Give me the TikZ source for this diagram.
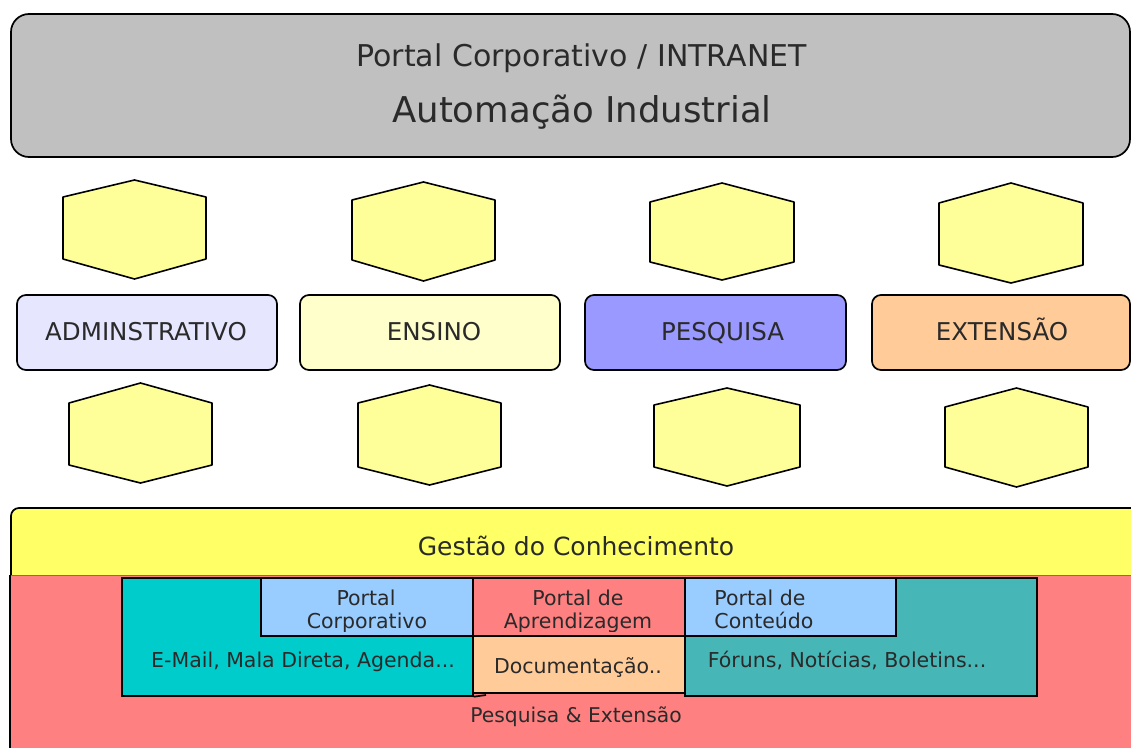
\documentclass[tikz,border=0pt]{standalone}
\usepackage{fontspec}
\setmainfont{DejaVu Sans}
\definecolor{topgray}{HTML}{C0C0C0}
\definecolor{hexy}{HTML}{FFFF99}
\definecolor{admc}{HTML}{E6E6FF}
\definecolor{ensc}{HTML}{FFFFCC}
\definecolor{pesc}{HTML}{9999FF}
\definecolor{extc}{HTML}{FFCC99}
\definecolor{gesc}{HTML}{FFFF66}
\definecolor{redc}{HTML}{FF8080}
\definecolor{cyanc}{HTML}{00CCCC}
\definecolor{tealc}{HTML}{47B6B6}
\definecolor{bluec}{HTML}{99CCFF}
\definecolor{docc}{HTML}{FFCC99}
\definecolor{txtc}{HTML}{2A2A2A}
\newcommand{\hexagono}[7]{%
  \draw[hexs] ({(#2+#3)/2},#4) -- (#3,#5) -- (#3,#6) -- ({(#2+#3)/2},#7) -- (#2,#6) -- (#2,#5) -- cycle;
  \coordinate (#1) at ({(#2+#3)/2},{(#4+#7)/2});}
\begin{document}
\begin{tikzpicture}[x=1pt,y=-1pt,
  edge/.style={draw=black,line width=1.7pt},
  hexs/.style={draw=black,fill=hexy,line width=1.6pt,line join=round},
  txt/.style={text=txtc,inner sep=0pt,anchor=base},
  lbltxt/.style={txt,font=\fontsize{24.5}{29}\selectfont},
  stxt/.style={txt,font=\fontsize{20.5}{24}\selectfont},
  lblbox/.style={draw=black,line width=1.7pt,rounded corners=9pt,minimum width=260pt,minimum height=75pt,inner sep=0pt},
  boxs/.style={draw=black,line width=1.7pt,inner sep=0pt,anchor=north west}]
\useasboundingbox (0,0) rectangle (1131,747);
\clip (0,0) rectangle (1131,747);
% top banner
\node[draw=black,fill=topgray,line width=1.7pt,rounded corners=18pt,minimum width=1119pt,minimum height=143pt,inner sep=0pt] (top) at (570.5,85.5) {};
\node[txt,font=\fontsize{30}{36}\selectfont] (toptxt1) at (581.5,66.5) {Portal Corporativo / INTRANET};
\node[txt,font=\fontsize{35.5}{42}\selectfont] (toptxt2) at (582,122) {Automação Industrial};
% hexagons
\hexagono{h1}{63}{206}{180}{197}{259}{279}
\hexagono{h2}{352}{495}{182}{200}{260}{281}
\hexagono{h3}{650}{794}{183}{202}{262}{280}
\hexagono{h4}{939}{1083}{183}{203}{265}{283}
\hexagono{g1}{69}{212}{383}{403}{465}{483}
\hexagono{g2}{358}{501}{385}{403}{467}{485}
\hexagono{g3}{654}{800}{388}{405}{467}{486}
\hexagono{g4}{945}{1088}{388}{407}{467}{487}
% label boxes
\node[lblbox,fill=admc] (adm) at (147,332.5) {};
\node[lblbox,fill=ensc] (ens) at (430,332.5) {};
\node[lblbox,fill=pesc,minimum width=261pt] (pes) at (715.5,332.5) {};
\node[lblbox,fill=extc,minimum width=258pt] (ext) at (1001,332.5) {};
\node[lbltxt] (admt) at (146,340.5) {ADMINSTRATIVO};
\node[lbltxt] (enst) at (434,340.5) {ENSINO};
\node[lbltxt] (pest) at (722.5,340.5) {PESQUISA};
\node[lbltxt] (extt) at (1002,340.5) {EXTENSÃO};
% Gestao bar
\fill[gesc,rounded corners=8pt] (11,580) -- (11,508) -- (1140,508) -- (1140,580) -- cycle;
\draw[edge,rounded corners=8pt] (11,576) -- (11,508) -- (1140,508);
\node[txt,font=\fontsize{25}{30}\selectfont] (gest) at (576,555.5) {Gestão do Conhecimento};
% red base
\fill[redc] (10,575) rectangle (1140,760);
\draw[line width=0.8pt,draw=black!55] (10,575) -- (1140,575);
\draw[edge] (10,760) -- (10,575);
% inner boxes
\node[boxs,fill=cyanc,minimum width=351pt,minimum height=118pt] (email) at (121,577) {};
\node[boxs,fill=tealc,minimum width=352pt,minimum height=118pt] (forum) at (684,577) {};
\node[boxs,fill=bluec,minimum width=212pt,minimum height=58pt] (pcorp) at (260,577) {};
\node[boxs,fill=redc,minimum width=212pt,minimum height=58pt] (paprend) at (472,577) {};
\node[boxs,fill=bluec,minimum width=211pt,minimum height=58pt] (pcont) at (684,577) {};
\node[boxs,fill=docc,minimum width=212pt,minimum height=57pt] (doc) at (472,635) {};
\coordinate (stubend) at (486,695);
\draw[edge] (email.south east) -- (stubend);
% texts
\begin{scope}
\clip (260,577) rectangle (472,631);
\node[stxt] (pcorp1) at (366,605) {Portal};
\node[stxt] (pcorp2) at (367,628.5) {Corporativo};
\end{scope}
\begin{scope}
\clip (472,577) rectangle (684,631);
\node[stxt] (pap1) at (578,605) {Portal de};
\node[stxt] (pap2) at (578,628.5) {Aprendizagem};
\end{scope}
\begin{scope}
\clip (684,577) rectangle (895,631);
\node[stxt] (pco1) at (760,605) {Portal de};
\node[stxt] (pco2) at (764,628.5) {Conteúdo};
\end{scope}
\node[stxt] (emailt) at (303,667) {E-Mail, Mala Direta, Agenda...};
\node[stxt] (doct) at (578,673) {Documentação..};
\node[stxt] (forumt) at (847,667) {Fóruns, Notícias, Boletins...};
\node[txt,font=\fontsize{20.3}{24}\selectfont] (pext) at (576,722) {Pesquisa \& Extensão};
\end{tikzpicture}
\end{document}
